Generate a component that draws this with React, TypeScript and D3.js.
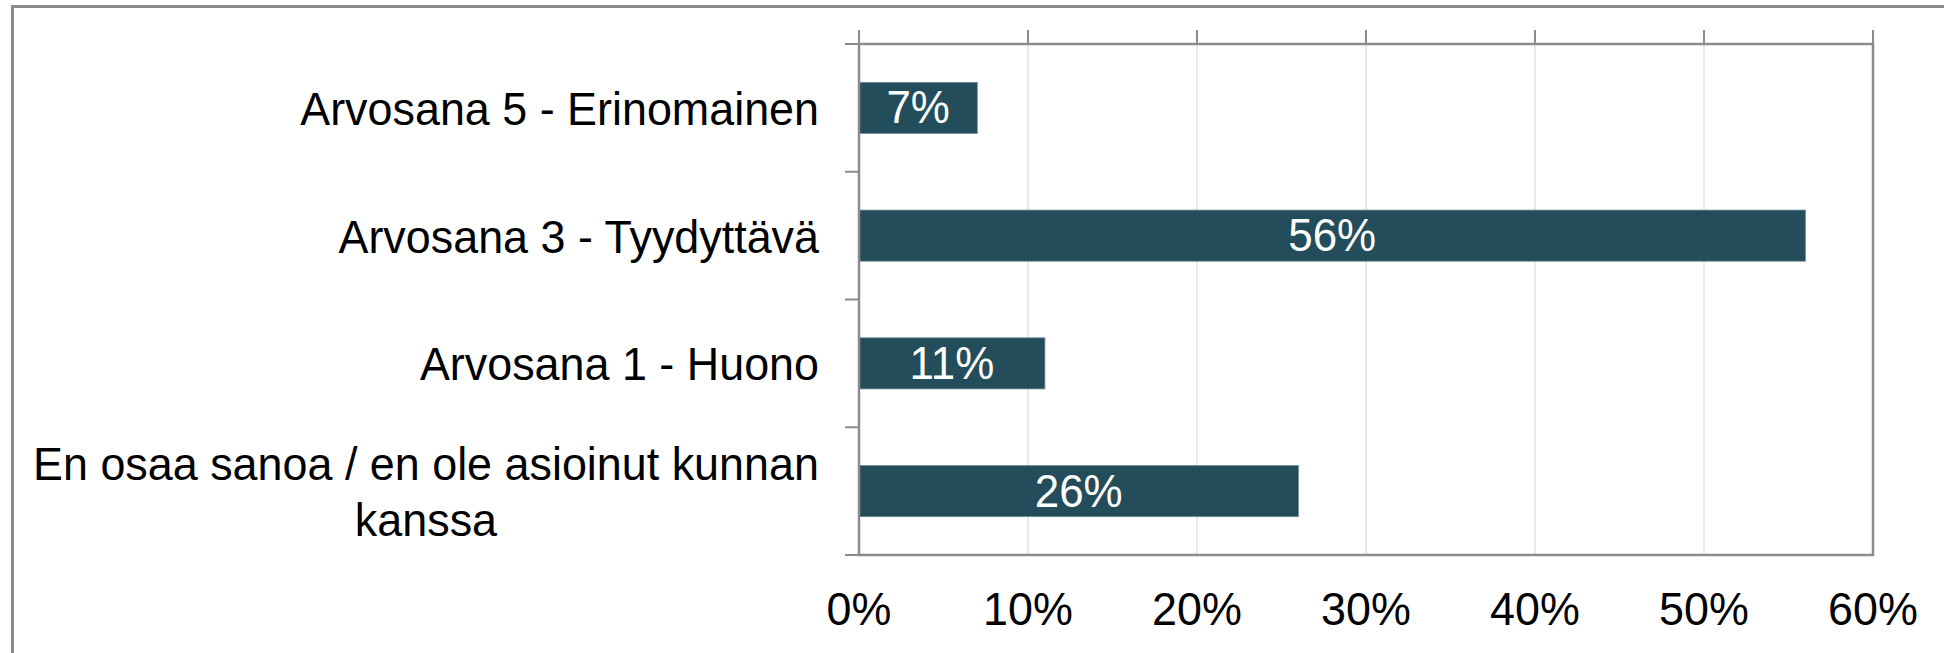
import React from "react";
import * as d3 from "d3";

const categories: string[][] = [
  ["Arvosana 5 - Erinomainen"],
  ["Arvosana 3 - Tyydyttävä"],
  ["Arvosana 1 - Huono"],
  ["En osaa sanoa / en ole asioinut kunnan", "kanssa"],
];
const values: number[] = [7, 56, 11, 26];
const xTicks: number[] = [0, 10, 20, 30, 40, 50, 60];

const W = 1944;
const H = 653;
const FONT = "'Liberation Sans', Arial, sans-serif";
const SX = 0.955;

function measure(text: string, size: number): number {
  const c = document.createElement("canvas");
  const ctx = c.getContext("2d");
  if (!ctx) return text.length * size * 0.5;
  ctx.font = `${size}px 'Liberation Sans', Arial, sans-serif`;
  return ctx.measureText(text).width * SX;
}

export default function App() {
  const left = 859;
  const right = 1873;
  const top = 44;
  const bottom = 555;

  const x = d3.scaleLinear().domain([0, 60]).range([left, right]);
  const y = d3
    .scaleBand<number>()
    .domain(d3.range(categories.length))
    .range([top, bottom])
    .paddingInner(0)
    .paddingOuter(0);
  const bw = y.bandwidth();
  const barH = bw * 0.4;
  const catFs = 47;
  const labelRight = 819;
  const lineGap = 56;

  return (
    <svg
      width={W}
      height={H}
      style={{ position: "absolute", left: 0, top: 0, background: "#fff" }}
    >
      <rect x={0} y={0} width={W} height={H} fill="#fff" />
      {/* outer frame (top and left visible) */}
      <rect x={12.5} y={6.5} width={W + 20} height={H + 20} fill="none" stroke="#8a8a8a" strokeWidth={3} />

      {/* gridlines */}
      {xTicks.slice(1, -1).map((t) => (
        <line key={"g" + t} x1={x(t)} x2={x(t)} y1={top} y2={bottom} stroke="#e2e2e2" strokeWidth={1.5} />
      ))}

      {/* bars */}
      {values.map((v, i) => {
        const cy = (y(i) as number) + bw / 2;
        return (
          <g key={"b" + i}>
            <rect
              x={x(0)}
              y={cy - barH / 2}
              width={x(v) - x(0)}
              height={barH}
              fill="#234D5A"
              stroke="#6f8b94"
              strokeWidth={0.8}
            />
            <text
              transform={`translate(${(x(0) + x(v)) / 2},${cy + 15.5}) scale(${SX},1)`}
              textAnchor="middle"
              fontFamily={FONT}
              fontSize={46}
              fill="#ffffff"
            >
              {v}%
            </text>
          </g>
        );
      })}

      {/* plot frame */}
      <rect x={left} y={top} width={right - left} height={bottom - top} fill="none" stroke="#8c8c8c" strokeWidth={2.5} />

      {/* category ticks */}
      {d3.range(categories.length + 1).map((i) => {
        const yy = i < categories.length ? (y(i) as number) : bottom;
        return <line key={"ct" + i} x1={845} x2={left} y1={yy} y2={yy} stroke="#8c8c8c" strokeWidth={2} />;
      })}

      {/* x ticks at top */}
      {xTicks.map((t) => (
        <line key={"xt" + t} x1={x(t)} x2={x(t)} y1={30} y2={top} stroke="#8c8c8c" strokeWidth={2} />
      ))}

      {/* x tick labels */}
      {xTicks.map((t) => (
        <text
          key={"xl" + t}
          transform={`translate(${x(t)},625) scale(${SX},1)`}
          textAnchor="middle"
          fontFamily={FONT}
          fontSize={catFs}
          fill="#000"
        >
          {t}%
        </text>
      ))}

      {/* category labels */}
      {categories.map((lines, i) => {
        const cy = (y(i) as number) + bw / 2;
        const n = lines.length;
        const w0 = measure(lines[0], catFs);
        const center = labelRight - w0 / 2;
        return lines.map((ln, j) => {
          const base = cy + 17 + (j - (n - 1) / 2) * lineGap;
          return (
            <text
              key={"cl" + i + "-" + j}
              transform={`translate(${n > 1 ? center : labelRight},${base}) scale(${SX},1)`}
              textAnchor={n > 1 ? "middle" : "end"}
              fontFamily={FONT}
              fontSize={catFs}
              fill="#000"
            >
              {ln}
            </text>
          );
        });
      })}
    </svg>
  );
}
